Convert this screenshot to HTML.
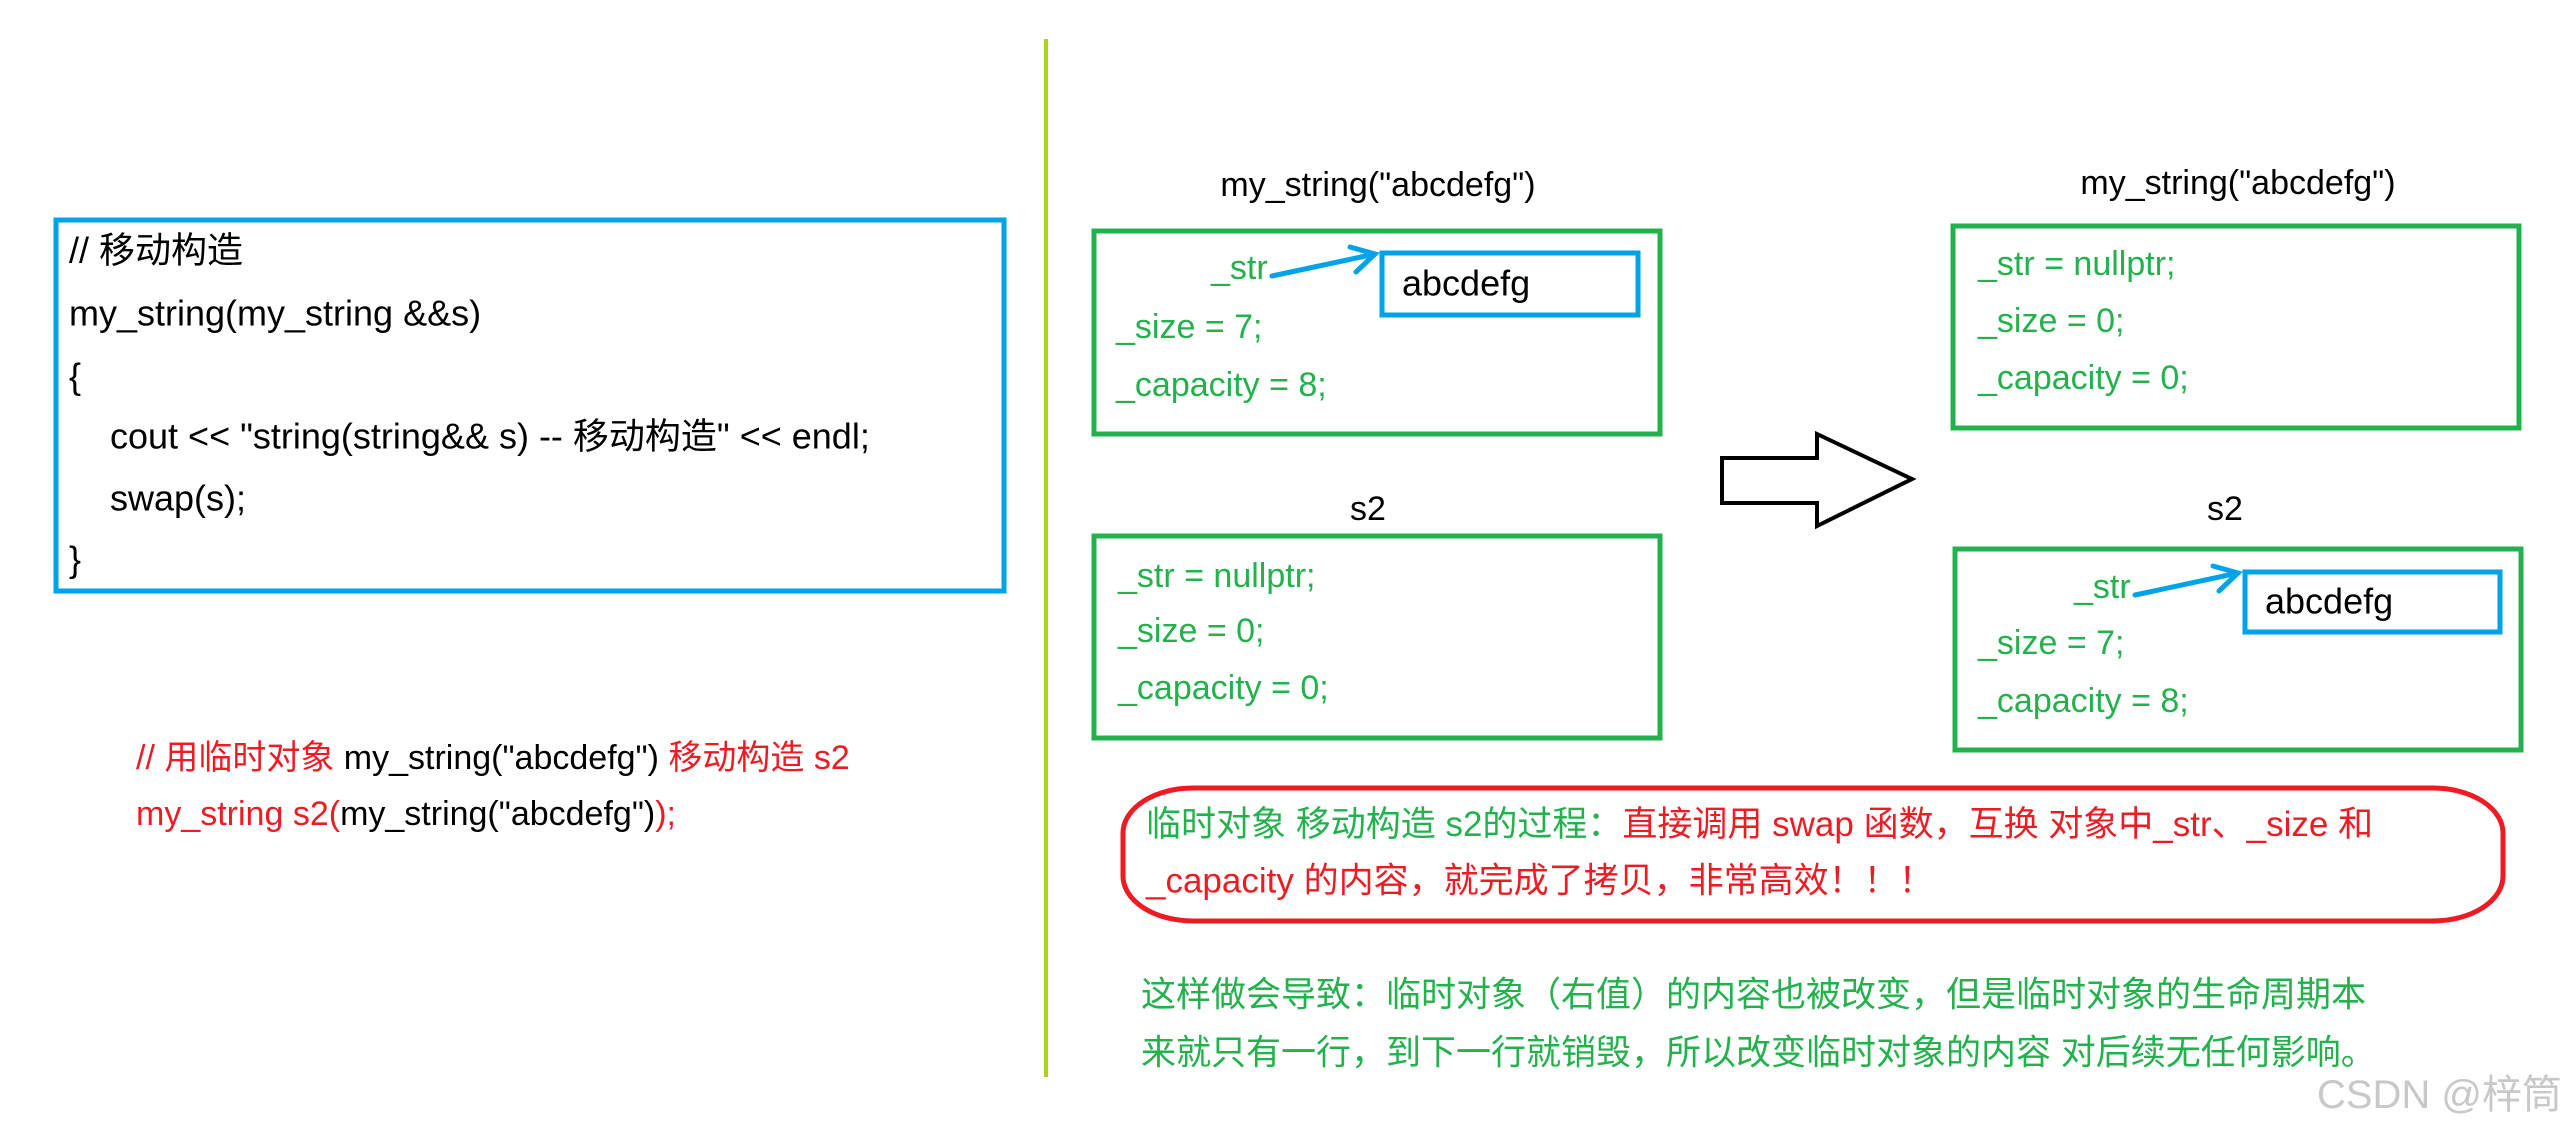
<!DOCTYPE html>
<html><head><meta charset="utf-8"><style>
html,body{margin:0;padding:0;background:#fff;}
svg{display:block;}
text{font-family:"Liberation Sans","Noto Sans CJK SC",sans-serif;dominant-baseline:central;}
</style></head><body>
<svg width="2567" height="1140" viewBox="0 0 2567 1140" xmlns="http://www.w3.org/2000/svg">
<!-- code box -->
<rect x="56" y="220" width="948" height="371" fill="none" stroke="#00a2e8" stroke-width="5"/>
<g font-size="36" fill="#000">
<text x="69" y="250">// 移动构造</text>
<text x="69" y="313">my_string(my_string &amp;&amp;s)</text>
<text x="69" y="376">{</text>
<text x="110" y="436">cout &lt;&lt; "string(string&amp;&amp; s) -- 移动构造" &lt;&lt; endl;</text>
<text x="110" y="498">swap(s);</text>
<text x="69" y="559">}</text>
</g>
<g font-size="34">
<text x="136" y="758"><tspan fill="#ed1c24">// 用临时对象 </tspan><tspan fill="#000">my_string("abcdefg") </tspan><tspan fill="#ed1c24">移动构造 s2</tspan></text>
<text x="136" y="814"><tspan fill="#ed1c24">my_string s2(</tspan><tspan fill="#000">my_string("abcdefg")</tspan><tspan fill="#ed1c24">);</tspan></text>
</g>
<!-- divider -->
<line x1="1046" y1="39" x2="1046" y2="1077" stroke="#a8d51c" stroke-width="4"/>
<!-- labels -->
<g font-size="34" fill="#000" text-anchor="middle">
<text x="1378" y="185">my_string("abcdefg")</text>
<text x="2238" y="183">my_string("abcdefg")</text>
<text x="1368" y="509">s2</text>
<text x="2225" y="509">s2</text>
</g>
<!-- boxes -->
<g fill="none" stroke="#22b14c" stroke-width="5">
<rect x="1094" y="231" width="566" height="203"/>
<rect x="1094" y="536" width="566" height="202"/>
<rect x="1953" y="226" width="566" height="202"/>
<rect x="1955" y="549" width="566" height="201"/>
</g>
<g fill="none" stroke="#00a2e8" stroke-width="5">
<rect x="1382" y="253" width="256" height="62"/>
<rect x="2245" y="572" width="255" height="60"/>
</g>
<g font-size="36" fill="#000">
<text x="1402" y="283">abcdefg</text>
<text x="2265" y="601">abcdefg</text>
</g>
<g font-size="34" fill="#22b14c">
<text x="1211" y="268">_str</text>
<text x="1116" y="327">_size = 7;</text>
<text x="1116" y="385">_capacity = 8;</text>
<text x="1118" y="576">_str = nullptr;</text>
<text x="1118" y="631">_size = 0;</text>
<text x="1118" y="688">_capacity = 0;</text>
<text x="1978" y="264">_str = nullptr;</text>
<text x="1978" y="321">_size = 0;</text>
<text x="1978" y="378">_capacity = 0;</text>
<text x="2074" y="587">_str</text>
<text x="1978" y="643">_size = 7;</text>
<text x="1978" y="701">_capacity = 8;</text>
</g>
<!-- pointer arrows -->
<g fill="none" stroke="#00a2e8" stroke-width="5" stroke-linecap="round">
<line x1="1272" y1="276" x2="1375" y2="254"/>
<polyline points="1350,247 1375,254 1356,272"/>
<line x1="2135" y1="595" x2="2238" y2="573"/>
<polyline points="2213,566 2238,573 2219,591"/>
</g>
<!-- big arrow -->
<polygon points="1722,458 1817,458 1817,434 1912,479 1817,526 1817,503 1722,503" fill="#fff" stroke="#000" stroke-width="4" stroke-linejoin="miter"/>
<!-- red rounded box -->
<rect x="1123" y="788" width="1380" height="133" rx="70" ry="45" fill="none" stroke="#ed1c24" stroke-width="5"/>
<g font-size="35">
<text x="1146" y="824"><tspan fill="#22b14c">临时对象 移动构造 s2的过程：</tspan><tspan fill="#ed1c24">直接调用 swap 函数，互换 对象中_str、_size 和</tspan></text>
<text x="1146" y="881" fill="#ed1c24">_capacity 的内容，就完成了拷贝，非常高效！！！</text>
<text x="1141" y="995" fill="#22b14c">这样做会导致：临时对象（右值）的内容也被改变，但是临时对象的生命周期本</text>
<text x="1141" y="1053" fill="#22b14c">来就只有一行，到下一行就销毁，所以改变临时对象的内容 对后续无任何影响。</text>
</g>
<text x="2562" y="1095" font-size="40" fill="#c8c8c8" text-anchor="end">CSDN @梓筒</text>
</svg>
</body></html>
